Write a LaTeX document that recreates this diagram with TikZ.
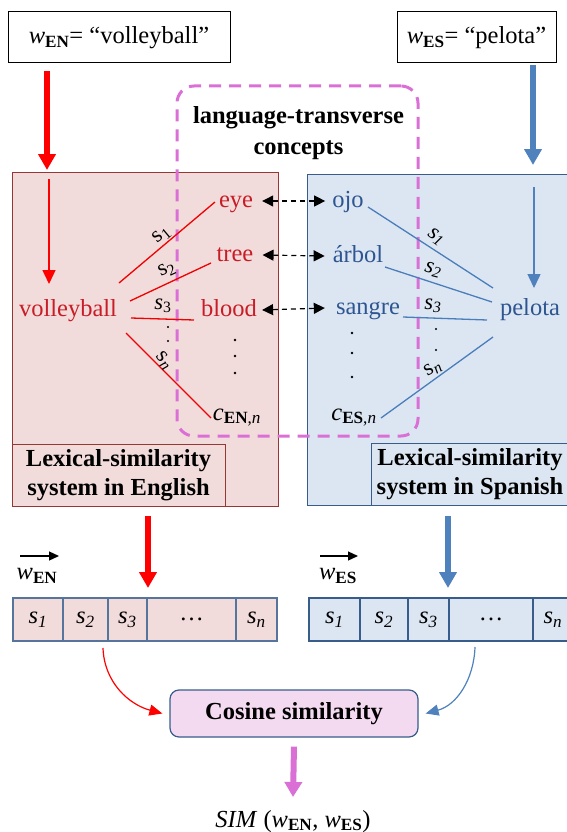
\documentclass[tikz,border=0pt]{standalone}
\usepackage{fontspec}
\setmainfont{Liberation Serif}
\usetikzlibrary{arrows.meta}
\definecolor{panelred}{RGB}{242,220,219}
\definecolor{borderred}{RGB}{149,55,53}
\definecolor{panelblue}{RGB}{220,230,242}
\definecolor{borderblue}{RGB}{56,93,138}
\definecolor{txtred}{RGB}{200,28,38}
\definecolor{txtblue}{RGB}{45,85,145}
\definecolor{linered}{RGB}{240,0,0}
\definecolor{lineblue}{RGB}{74,126,187}
\definecolor{arrowblue}{RGB}{79,129,189}
\definecolor{magent}{RGB}{218,112,214}
\definecolor{cosfill}{RGB}{243,218,241}
\newcommand\fsz{\fontsize{24.5}{29}\selectfont}
\newcommand\fsl{\fontsize{22.5}{26}\selectfont}
\newcommand\myWEN{\textit{w}\textsubscript{\textbf{EN}}}
\newcommand\myWES{\textit{w}\textsubscript{\textbf{ES}}}
\tikzset{
  topbox/.style={draw=black, line width=1pt, fill=white, font=\fsz, minimum height=51pt, inner sep=0pt},
  panelR/.style={draw=borderred, fill=panelred, line width=1pt},
  panelB/.style={draw=borderblue, fill=panelblue, line width=1pt},
  lblbox/.style={minimum height=62pt, inner sep=0pt, align=center, font=\fsz\bfseries},
  word/.style={anchor=base, inner sep=0pt, text height=17pt, text depth=5pt, font=\fsz},
  slab/.style={inner sep=0pt, font=\fsl},
  rl/.style={draw=linered, line width=1.3pt},
  bl/.style={draw=lineblue, line width=1.3pt},
  thickR/.style={draw=red, line width=5.5pt, -{Triangle[width=17pt,length=16pt]}},
  thickB/.style={draw=arrowblue, line width=5.5pt, -{Triangle[width=17pt,length=16pt]}},
  thinR/.style={draw=red, line width=1.5pt, -{Triangle[width=13pt,length=14pt]}},
  thinB/.style={draw=arrowblue, line width=1.5pt, -{Triangle[width=13pt,length=14pt]}},
  dbl/.style={draw=black, line width=1.2pt, dash pattern=on 5pt off 4pt, {Triangle[width=11pt,length=11pt]}-{Triangle[width=11pt,length=11pt]}},
  cellR/.style={draw=borderblue!85, fill=panelred, line width=1.2pt, minimum height=43pt, inner sep=0pt, font=\fsz},
  cellB/.style={draw=borderblue, fill=panelblue, line width=1.2pt, minimum height=43pt, inner sep=0pt, font=\fsz},
  vecarr/.style={draw=black, line width=1.3pt, -{Triangle[width=9pt,length=10pt]}},
  dotty/.style={fill=black, circle, inner sep=0pt, minimum size=2.8pt},
}
\begin{document}
\begin{tikzpicture}[x=1pt,y=-1pt]
\useasboundingbox (0,0) rectangle (567,832);

% top boxes
\node[topbox, minimum width=222pt] (wen) at (119,37.5) {\myWEN= “volleyball”};
\node[topbox, minimum width=159pt] (wes) at (476.5,37.5) {\myWES= “pelota”};

% panels
\node[panelR, minimum width=266pt, minimum height=334pt] (pR) at (145,339) {};
\node[panelB, minimum width=262pt, minimum height=331pt] (pB) at (438,339.5) {};
\node[panelR, lblbox, minimum width=213pt] (lR) at (118.5,475) {Lexical-similarity\\system in English};
\node[panelB, lblbox, minimum width=198pt] (lB) at (470,474) {Lexical-similarity\\system in Spanish};

% language-transverse concepts box
\node[draw=magent, line width=3pt, dash pattern=on 12pt off 8pt, rounded corners=17pt,
      minimum width=241pt, minimum height=350pt, inner sep=0pt] (ltc) at (297.5,261) {};
\node[align=center, font=\fontsize{24.5}{30.5}\selectfont\bfseries, inner sep=0pt] (ltt) at (298.5,133) {language-transverse\\concepts};

% thick arrows from top boxes
\coordinate (tRa) at (47,71); \coordinate (tRb) at (47,170);
\coordinate (tBa) at (533,65); \coordinate (tBb) at (533,165);
\draw[thickR] (tRa) -- (tRb);
\draw[thickB] (tBa) -- (tBb);

% thin arrows inside panels
\coordinate (iRa) at (49,179); \coordinate (iRb) at (49,284);
\coordinate (iBa) at (534,187); \coordinate (iBb) at (534,288);
\draw[thinR] (iRa) -- (iRb);
\draw[thinB] (iBa) -- (iBb);

% English words
\node[word, text=txtred] (vb) at (68,316) {volleyball};
\node[word, text=txtred] (eye) at (236,207) {eye};
\node[word, text=txtred] (tree) at (235,261) {tree};
\node[word, text=txtred] (blood) at (229,316) {blood};
\node[word, text=black] (cen) at (237,420) {\textit{c}\textsubscript{\textbf{EN},\textit{n}}};
\node[dotty] (dR1) at (235,340) {};
\node[dotty] (dR2) at (235,356) {};
\node[dotty] (dR3) at (235,373) {};

% Spanish words
\node[word, text=txtblue] (pel) at (530,315) {pelota};
\node[word, text=txtblue] (ojo) at (348,207) {ojo};
\node[word, text=txtblue] (arb) at (358,262) {árbol};
\node[word, text=txtblue] (san) at (368,314) {sangre};
\node[word, text=black] (ces) at (354,420) {\textit{c}\textsubscript{\textbf{ES},\textit{n}}};
\node[dotty] (dB1) at (352,333) {};
\node[dotty] (dB2) at (352,353) {};
\node[dotty] (dB3) at (352,377) {};

% English similarity lines
\coordinate (r1a) at (119,283); \coordinate (r1b) at (215,202);
\coordinate (r2a) at (130,301); \coordinate (r2b) at (211,263);
\coordinate (r3a) at (131,318); \coordinate (r3b) at (194,320);
\coordinate (r4a) at (126,333); \coordinate (r4b) at (211,418);
\draw[rl] (r1a) -- (r1b);
\draw[rl] (r2a) -- (r2b);
\draw[rl] (r3a) -- (r3b);
\draw[rl] (r4a) -- (r4b);
\node[slab, rotate=40] (rs1) at (162,235) {s\textsubscript{1}};
\node[slab, rotate=25] (rs2) at (167,270) {s\textsubscript{2}};
\node[slab] (rs3) at (163,306) {\textit{s}\textsubscript{3}};
\node[dotty, minimum size=2.4pt] (rd1) at (168,327) {};
\node[dotty, minimum size=2.4pt] (rd2) at (168,341) {};
\node[slab, rotate=-50] (rsn) at (164,361) {s\textsubscript{\textit{n}}};

% Spanish similarity lines
\coordinate (b1a) at (368,207); \coordinate (b1b) at (493,288);
\coordinate (b2a) at (385,267); \coordinate (b2b) at (492,302);
\coordinate (b3a) at (403,317); \coordinate (b3b) at (487,320);
\coordinate (b4a) at (381,418); \coordinate (b4b) at (493,337);
\draw[bl] (b1a) -- (b1b);
\draw[bl] (b2a) -- (b2b);
\draw[bl] (b3a) -- (b3b);
\draw[bl] (b4a) -- (b4b);
\node[slab, rotate=-35] (bs1) at (436,237) {\textit{s}\textsubscript{\textit{1}}};
\node[slab, rotate=-15] (bs2) at (433,270) {\textit{s}\textsubscript{\textit{2}}};
\node[slab] (bs3) at (433,306) {\textit{s}\textsubscript{\textit{3}}};
\node[dotty, minimum size=2.4pt] (bd1) at (436,329) {};
\node[dotty, minimum size=2.4pt] (bd2) at (436,350) {};
\node[slab, rotate=30] (bsn) at (433,369) {s\textsubscript{\textit{n}}};

% cross-language arrows
\draw[dbl] ([xshift=9pt]eye.east) -- ([xshift=-7pt]ojo.west);
\draw[dbl] ([xshift=9pt]tree.east) -- ([xshift=-8pt]arb.west);
\draw[dbl] ([xshift=5pt]blood.east) -- ([xshift=-11pt]san.west);

% arrows from panels to vectors
\coordinate (vRa) at (148,516); \coordinate (vRb) at (148,588);
\coordinate (vBa) at (448,516); \coordinate (vBb) at (448,588);
\draw[thickR] (vRa) -- (vRb);
\draw[thickB] (vBa) -- (vBb);

% vector labels
\coordinate (aRa) at (20,556); \coordinate (aRb) at (59,556);
\coordinate (aBa) at (320,556); \coordinate (aBb) at (358,556);
\draw[vecarr] (aRa) -- (aRb);
\draw[vecarr] (aBa) -- (aBb);
\node[inner sep=0pt, font=\fsz] (vwen) at (37,576) {\myWEN};
\node[inner sep=0pt, font=\fsz] (vwes) at (338,576) {\myWES};

% vector cells English
\node[cellR, minimum width=50pt] (c1) at (38,619.5) {\textit{s}\textsubscript{\textit{1}}};
\node[cellR, minimum width=45pt] (c2) at (85.5,619.5) {\textit{s}\textsubscript{\textit{2}}};
\node[cellR, minimum width=39pt] (c3) at (127.5,619.5) {\textit{s}\textsubscript{\textit{3}}};
\node[cellR, minimum width=89pt] (c4) at (191.5,619.5) {…};
\node[cellR, minimum width=41pt] (c5) at (256.5,619.5) {\textit{s}\textsubscript{\textit{n}}};
% vector cells Spanish
\node[cellB, minimum width=51pt] (d1) at (334.5,619.5) {\textit{s}\textsubscript{\textit{1}}};
\node[cellB, minimum width=48pt] (d2) at (384,619.5) {\textit{s}\textsubscript{\textit{2}}};
\node[cellB, minimum width=41pt] (d3) at (428.5,619.5) {\textit{s}\textsubscript{\textit{3}}};
\node[cellB, minimum width=84pt] (d4) at (491,619.5) {…};
\node[cellB, minimum width=40pt] (d5) at (553,619.5) {\textit{s}\textsubscript{\textit{n}}};

% cosine similarity
\node[draw=borderblue, fill=cosfill, line width=1.2pt, rounded corners=9pt, minimum width=248pt,
      minimum height=47pt, inner sep=0pt, font=\fsz\bfseries] (cos) at (294,713.5) {Cosine similarity};
\coordinate (cRa) at (103,648);
\coordinate (cBa) at (475,647);
\draw[red, line width=1.2pt, -{Triangle[width=11pt,length=13pt]}] (cRa) to[out=-88,in=165] ([xshift=-7pt]cos.west);
\draw[arrowblue, line width=1.2pt, -{Triangle[width=11pt,length=13pt]}] (cBa) to[out=-92,in=15] ([xshift=7pt]cos.east);

% result
\node[anchor=base, inner sep=0pt, font=\fsz] (sim) at (293,827) {\textit{SIM} (\myWEN, \myWES)};
\draw[draw=magent, line width=6pt, -{Triangle[width=17pt,length=15pt]}] ([yshift=-9pt]cos.south) -- ([yshift=30pt]sim.base);
\end{tikzpicture}
\end{document}
